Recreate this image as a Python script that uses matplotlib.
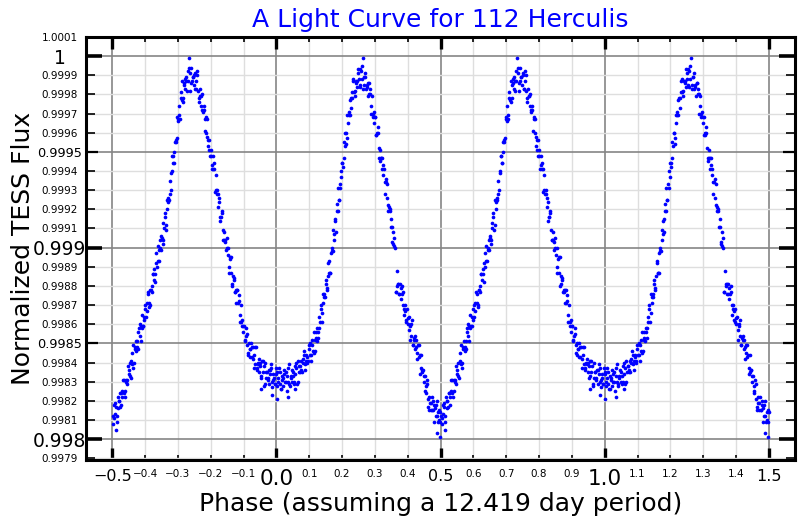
import matplotlib
matplotlib.use("Agg")
import matplotlib.pyplot as plt
import numpy as np

# phase-folded TESS light curve, one period (phase 0..1)
# quarter 1: minimum near 0.0 and rise to first peak
phase_q1 = [0.001, 0.003, 0.006, 0.008, 0.011, 0.013, 0.016, 0.018, 0.021, 0.023,
            0.026, 0.028, 0.031, 0.033, 0.036, 0.038, 0.041, 0.043, 0.046, 0.048,
            0.051, 0.053, 0.056, 0.058, 0.061, 0.063, 0.066, 0.068, 0.071, 0.073,
            0.076, 0.078, 0.081, 0.083, 0.086, 0.088, 0.091, 0.093, 0.096, 0.098,
            0.101, 0.103, 0.106, 0.108, 0.111, 0.113, 0.116, 0.118, 0.121, 0.123,
            0.126, 0.128, 0.131, 0.133, 0.136, 0.138, 0.141, 0.143, 0.146, 0.148,
            0.151, 0.153, 0.156, 0.158, 0.161, 0.163, 0.166, 0.168, 0.171, 0.173,
            0.176, 0.178, 0.181, 0.183, 0.186, 0.188, 0.191, 0.193, 0.196, 0.198,
            0.201, 0.203, 0.206, 0.208, 0.211, 0.213, 0.216, 0.218, 0.221, 0.223,
            0.226, 0.228, 0.231, 0.233, 0.236, 0.238, 0.241, 0.243, 0.246, 0.248]
flux_q1 = [0.99835, 0.99828, 0.99832, 0.99837, 0.99829, 0.99826, 0.99833, 0.99831, 0.99828, 0.99836,
           0.99830, 0.99835, 0.99825, 0.99833, 0.99830, 0.99839, 0.99828, 0.99833, 0.99836, 0.99830,
           0.99833, 0.99829, 0.99838, 0.99834, 0.99837, 0.99829, 0.99841, 0.99835, 0.99838, 0.99835,
           0.99841, 0.99835, 0.99840, 0.99846, 0.99839, 0.99836, 0.99844, 0.99843, 0.99841, 0.99849,
           0.99844, 0.99850, 0.99841, 0.99849, 0.99846, 0.99856, 0.99846, 0.99852, 0.99856, 0.99851,
           0.99856, 0.99853, 0.99864, 0.99861, 0.99868, 0.99861, 0.99876, 0.99871, 0.99876, 0.99874,
           0.99883, 0.99878, 0.99885, 0.99892, 0.99887, 0.99887, 0.99897, 0.99898, 0.99898, 0.99909,
           0.99907, 0.99914, 0.99908, 0.99919, 0.99919, 0.99931, 0.99925, 0.99933, 0.99940, 0.99937,
           0.99944, 0.99942, 0.99955, 0.99953, 0.99960, 0.99954, 0.99969, 0.99965, 0.99971, 0.99969,
           0.99978, 0.99973, 0.99981, 0.99987, 0.99981, 0.99979, 0.99987, 0.99986, 0.99984, 0.99993]

# quarter 2: first peak, fall with the step near 0.36, deep minimum near 0.5
phase_q2 = [0.251, 0.253, 0.256, 0.258, 0.261, 0.263, 0.266, 0.268, 0.271, 0.273,
            0.276, 0.278, 0.281, 0.283, 0.286, 0.288, 0.291, 0.293, 0.296, 0.298,
            0.301, 0.303, 0.306, 0.308, 0.311, 0.313, 0.316, 0.318, 0.321, 0.323,
            0.326, 0.328, 0.331, 0.333, 0.336, 0.338, 0.341, 0.343, 0.346, 0.348,
            0.351, 0.353, 0.356, 0.358, 0.361, 0.363, 0.366, 0.368, 0.371, 0.373,
            0.376, 0.378, 0.381, 0.383, 0.386, 0.388, 0.391, 0.393, 0.396, 0.398,
            0.401, 0.403, 0.406, 0.408, 0.411, 0.413, 0.416, 0.418, 0.421, 0.423,
            0.426, 0.428, 0.431, 0.433, 0.436, 0.438, 0.441, 0.443, 0.446, 0.448,
            0.451, 0.453, 0.456, 0.458, 0.461, 0.463, 0.466, 0.468, 0.471, 0.473,
            0.476, 0.478, 0.481, 0.483, 0.486, 0.488, 0.491, 0.493, 0.496, 0.498]
flux_q2 = [0.99988, 0.99993, 0.99984, 0.99992, 0.99988, 0.99999, 0.99985, 0.99989, 0.99991, 0.99983,
           0.99985, 0.99979, 0.99986, 0.99980, 0.99980, 0.99970, 0.99979, 0.99970, 0.99971, 0.99965,
           0.99968, 0.99959, 0.99960, 0.99963, 0.99952, 0.99947, 0.99951, 0.99947, 0.99941, 0.99947,
           0.99938, 0.99941, 0.99928, 0.99934, 0.99926, 0.99933, 0.99919, 0.99921, 0.99920, 0.99911,
           0.99911, 0.99903, 0.99908, 0.99901, 0.99900, 0.99877, 0.99888, 0.99880, 0.99881, 0.99876,
           0.99881, 0.99873, 0.99876, 0.99880, 0.99870, 0.99865, 0.99870, 0.99867, 0.99861, 0.99868,
           0.99860, 0.99864, 0.99852, 0.99859, 0.99854, 0.99862, 0.99849, 0.99853, 0.99854, 0.99847,
           0.99848, 0.99842, 0.99849, 0.99843, 0.99844, 0.99834, 0.99844, 0.99835, 0.99836, 0.99830,
           0.99833, 0.99825, 0.99828, 0.99831, 0.99821, 0.99817, 0.99822, 0.99819, 0.99815, 0.99822,
           0.99815, 0.99820, 0.99809, 0.99816, 0.99812, 0.99820, 0.99809, 0.99814, 0.99815, 0.99809]

# quarter 3: rise from the deep minimum to the second peak
phase_q3 = [0.501, 0.503, 0.506, 0.508, 0.511, 0.513, 0.516, 0.518, 0.521, 0.523,
            0.526, 0.528, 0.531, 0.533, 0.536, 0.538, 0.541, 0.543, 0.546, 0.548,
            0.551, 0.553, 0.556, 0.558, 0.561, 0.563, 0.566, 0.568, 0.571, 0.573,
            0.576, 0.578, 0.581, 0.583, 0.586, 0.588, 0.591, 0.593, 0.596, 0.598,
            0.601, 0.603, 0.606, 0.608, 0.611, 0.613, 0.616, 0.618, 0.621, 0.623,
            0.626, 0.628, 0.631, 0.633, 0.636, 0.638, 0.641, 0.643, 0.646, 0.648,
            0.651, 0.653, 0.656, 0.658, 0.661, 0.663, 0.666, 0.668, 0.671, 0.673,
            0.676, 0.678, 0.681, 0.683, 0.686, 0.688, 0.691, 0.693, 0.696, 0.698,
            0.701, 0.703, 0.706, 0.708, 0.711, 0.713, 0.716, 0.718, 0.721, 0.723,
            0.726, 0.728, 0.731, 0.733, 0.736, 0.738, 0.741, 0.743, 0.746, 0.748]
flux_q3 = [0.99812, 0.99808, 0.99818, 0.99813, 0.99817, 0.99809, 0.99822, 0.99816, 0.99820, 0.99817,
           0.99824, 0.99818, 0.99825, 0.99831, 0.99824, 0.99822, 0.99831, 0.99830, 0.99829, 0.99838,
           0.99834, 0.99840, 0.99832, 0.99841, 0.99839, 0.99849, 0.99840, 0.99847, 0.99851, 0.99846,
           0.99851, 0.99847, 0.99858, 0.99854, 0.99859, 0.99851, 0.99865, 0.99859, 0.99864, 0.99862,
           0.99870, 0.99864, 0.99871, 0.99877, 0.99871, 0.99869, 0.99878, 0.99878, 0.99877, 0.99886,
           0.99883, 0.99889, 0.99882, 0.99892, 0.99890, 0.99901, 0.99893, 0.99899, 0.99904, 0.99899,
           0.99905, 0.99902, 0.99913, 0.99910, 0.99916, 0.99909, 0.99925, 0.99920, 0.99926, 0.99925,
           0.99935, 0.99930, 0.99940, 0.99948, 0.99944, 0.99944, 0.99955, 0.99956, 0.99957, 0.99968,
           0.99966, 0.99974, 0.99967, 0.99978, 0.99977, 0.99987, 0.99978, 0.99985, 0.99988, 0.99983,
           0.99987, 0.99982, 0.99992, 0.99999, 0.99991, 0.99982, 0.99994, 0.99987, 0.99989, 0.99985]

# quarter 4: fall from the second peak back to the shallow minimum
phase_q4 = [0.751, 0.753, 0.756, 0.758, 0.761, 0.763, 0.766, 0.768, 0.771, 0.773,
            0.776, 0.778, 0.781, 0.783, 0.786, 0.788, 0.791, 0.793, 0.796, 0.798,
            0.801, 0.803, 0.806, 0.808, 0.811, 0.813, 0.816, 0.818, 0.821, 0.823,
            0.826, 0.828, 0.831, 0.833, 0.836, 0.838, 0.841, 0.843, 0.846, 0.848,
            0.851, 0.853, 0.856, 0.858, 0.861, 0.863, 0.866, 0.868, 0.871, 0.873,
            0.876, 0.878, 0.881, 0.883, 0.886, 0.888, 0.891, 0.893, 0.896, 0.898,
            0.901, 0.903, 0.906, 0.908, 0.911, 0.913, 0.916, 0.918, 0.921, 0.923,
            0.926, 0.928, 0.931, 0.933, 0.936, 0.938, 0.941, 0.943, 0.946, 0.948,
            0.951, 0.953, 0.956, 0.958, 0.961, 0.963, 0.966, 0.968, 0.971, 0.973,
            0.976, 0.978, 0.981, 0.983, 0.986, 0.988, 0.991, 0.993, 0.996, 0.998]
flux_q4 = [0.99991, 0.99983, 0.99987, 0.99992, 0.99982, 0.99978, 0.99983, 0.99979, 0.99974, 0.99980,
           0.99971, 0.99974, 0.99961, 0.99967, 0.99960, 0.99967, 0.99953, 0.99956, 0.99956, 0.99948,
           0.99948, 0.99941, 0.99948, 0.99941, 0.99941, 0.99929, 0.99938, 0.99928, 0.99928, 0.99921,
           0.99924, 0.99914, 0.99916, 0.99919, 0.99909, 0.99904, 0.99908, 0.99904, 0.99899, 0.99905,
           0.99896, 0.99900, 0.99887, 0.99894, 0.99887, 0.99895, 0.99881, 0.99885, 0.99884, 0.99877,
           0.99878, 0.99871, 0.99878, 0.99871, 0.99872, 0.99861, 0.99870, 0.99861, 0.99862, 0.99856,
           0.99859, 0.99851, 0.99854, 0.99858, 0.99849, 0.99845, 0.99850, 0.99847, 0.99843, 0.99850,
           0.99843, 0.99848, 0.99837, 0.99844, 0.99839, 0.99848, 0.99836, 0.99840, 0.99842, 0.99835,
           0.99838, 0.99832, 0.99841, 0.99835, 0.99838, 0.99828, 0.99840, 0.99832, 0.99835, 0.99831,
           0.99836, 0.99829, 0.99834, 0.99839, 0.99830, 0.99827, 0.99834, 0.99832, 0.99829, 0.99837]

# second pass of points between the ones above, first half of the period
phase_fill1 = [0.0045, 0.0095, 0.0145, 0.0195, 0.0245, 0.0295, 0.0345, 0.0395, 0.0445, 0.0495,
               0.0545, 0.0595, 0.0645, 0.0695, 0.0745, 0.0795, 0.0845, 0.0895, 0.0945, 0.0995,
               0.1045, 0.1095, 0.1145, 0.1195, 0.1245, 0.1295, 0.1345, 0.1395, 0.1445, 0.1495,
               0.1545, 0.1595, 0.1645, 0.1695, 0.1745, 0.1795, 0.1845, 0.1895, 0.1945, 0.1995,
               0.2045, 0.2095, 0.2145, 0.2195, 0.2245, 0.2295, 0.2345, 0.2395, 0.2445, 0.2495,
               0.2545, 0.2595, 0.2645, 0.2695, 0.2745, 0.2795, 0.2845, 0.2895, 0.2945, 0.2995,
               0.3045, 0.3095, 0.3145, 0.3195, 0.3245, 0.3295, 0.3345, 0.3395, 0.3445, 0.3495,
               0.3545, 0.3595, 0.3645, 0.3695, 0.3745, 0.3795, 0.3845, 0.3895, 0.3945, 0.3995,
               0.4045, 0.4095, 0.4145, 0.4195, 0.4245, 0.4295, 0.4345, 0.4395, 0.4445, 0.4495,
               0.4545, 0.4595, 0.4645, 0.4695, 0.4745, 0.4795, 0.4845, 0.4895, 0.4945, 0.4995]
flux_fill1 = [0.99830, 0.99835, 0.99826, 0.99832, 0.99834, 0.99830, 0.99837, 0.99829, 0.99832, 0.99835,
              0.99830, 0.99840, 0.99830, 0.99838, 0.99836, 0.99842, 0.99844, 0.99841, 0.99840, 0.99847,
              0.99844, 0.99852, 0.99845, 0.99853, 0.99858, 0.99858, 0.99870, 0.99866, 0.99874, 0.99881,
              0.99879, 0.99893, 0.99887, 0.99900, 0.99904, 0.99915, 0.99923, 0.99925, 0.99931, 0.99944,
              0.99947, 0.99960, 0.99957, 0.99969, 0.99977, 0.99978, 0.99988, 0.99982, 0.99987, 0.99991,
              0.99985, 0.99995, 0.99983, 0.99989, 0.99984, 0.99986, 0.99983, 0.99974, 0.99968, 0.99968,
              0.99959, 0.99960, 0.99945, 0.99947, 0.99943, 0.99934, 0.99936, 0.99922, 0.99919, 0.99915,
              0.99902, 0.99905, 0.99877, 0.99881, 0.99876, 0.99879, 0.99877, 0.99868, 0.99862, 0.99863,
              0.99857, 0.99860, 0.99849, 0.99852, 0.99852, 0.99845, 0.99849, 0.99837, 0.99836, 0.99833,
              0.99824, 0.99829, 0.99815, 0.99819, 0.99815, 0.99818, 0.99818, 0.99812, 0.99810, 0.99814]

# second pass, second half of the period
phase_fill2 = [0.5045, 0.5095, 0.5145, 0.5195, 0.5245, 0.5295, 0.5345, 0.5395, 0.5445, 0.5495,
               0.5545, 0.5595, 0.5645, 0.5695, 0.5745, 0.5795, 0.5845, 0.5895, 0.5945, 0.5995,
               0.6045, 0.6095, 0.6145, 0.6195, 0.6245, 0.6295, 0.6345, 0.6395, 0.6445, 0.6495,
               0.6545, 0.6595, 0.6645, 0.6695, 0.6745, 0.6795, 0.6845, 0.6895, 0.6945, 0.6995,
               0.7045, 0.7095, 0.7145, 0.7195, 0.7245, 0.7295, 0.7345, 0.7395, 0.7445, 0.7495,
               0.7545, 0.7595, 0.7645, 0.7695, 0.7745, 0.7795, 0.7845, 0.7895, 0.7945, 0.7995,
               0.8045, 0.8095, 0.8145, 0.8195, 0.8245, 0.8295, 0.8345, 0.8395, 0.8445, 0.8495,
               0.8545, 0.8595, 0.8645, 0.8695, 0.8745, 0.8795, 0.8845, 0.8895, 0.8945, 0.8995,
               0.9045, 0.9095, 0.9145, 0.9195, 0.9245, 0.9295, 0.9345, 0.9395, 0.9445, 0.9495,
               0.9545, 0.9595, 0.9645, 0.9695, 0.9745, 0.9795, 0.9845, 0.9895, 0.9945, 0.9995]
flux_fill2 = [0.99811, 0.99819, 0.99812, 0.99820, 0.99824, 0.99822, 0.99831, 0.99825, 0.99831, 0.99836,
              0.99833, 0.99845, 0.99837, 0.99848, 0.99848, 0.99856, 0.99860, 0.99858, 0.99859, 0.99868,
              0.99867, 0.99876, 0.99870, 0.99880, 0.99886, 0.99886, 0.99897, 0.99893, 0.99900, 0.99906,
              0.99904, 0.99918, 0.99912, 0.99924, 0.99928, 0.99939, 0.99948, 0.99950, 0.99955, 0.99967,
              0.99969, 0.99981, 0.99976, 0.99986, 0.99989, 0.99987, 0.99994, 0.99986, 0.99989, 0.99990,
              0.99983, 0.99990, 0.99976, 0.99979, 0.99972, 0.99972, 0.99968, 0.99958, 0.99951, 0.99951,
              0.99943, 0.99944, 0.99930, 0.99930, 0.99926, 0.99916, 0.99918, 0.99904, 0.99903, 0.99900,
              0.99890, 0.99895, 0.99880, 0.99883, 0.99877, 0.99878, 0.99875, 0.99865, 0.99859, 0.99859,
              0.99852, 0.99855, 0.99844, 0.99847, 0.99848, 0.99842, 0.99848, 0.99837, 0.99839, 0.99840,
              0.99833, 0.99841, 0.99829, 0.99835, 0.99832, 0.99836, 0.99837, 0.99831, 0.99829, 0.99834]

# a few stragglers near the minima
phase_extra = [0.002, 0.035, 0.058, 0.489, 0.497, 0.512, 0.954, 0.985]
flux_extra = [0.99821, 0.99822, 0.99826, 0.99803, 0.99801, 0.99805, 0.99826, 0.99823]

# axis tick labels
x_major_labels = ["\u22120.5", "0.0", "0.5", "1.0", "1.5"]
x_minor_labels = ["\u22120.4", "\u22120.3", "\u22120.2", "\u22120.1",
                  "0.1", "0.2", "0.3", "0.4", "0.6", "0.7", "0.8", "0.9",
                  "1.1", "1.2", "1.3", "1.4"]
y_major_labels = ["0.998", "0.9985", "0.999", "0.9995", "1"]
y_minor_labels = ["0.9979", "0.9981", "0.9982", "0.9983", "0.9984",
                  "0.9986", "0.9987", "0.9988", "0.9989", "0.9991", "0.9992",
                  "0.9993", "0.9994", "0.9996", "0.9997", "0.9998", "0.9999", "1.0001"]

phase = np.array(phase_q1 + phase_q2 + phase_q3 + phase_q4
                 + phase_fill1 + phase_fill2 + phase_extra)
flux = np.array(flux_q1 + flux_q2 + flux_q3 + flux_q4
                + flux_fill1 + flux_fill2 + flux_extra)


def num(s):
    return float(s.replace("\u2212", "-"))


fig = plt.figure(figsize=(8, 5.2), dpi=100)
ax = fig.add_axes([0.1075, 0.115, 0.8865, 0.814])

# the folded period is shown three times, only between -0.5 and 1.5
for shift in (-1, 0, 1):
    x = phase + shift
    keep = (x >= -0.5) & (x <= 1.5)
    ax.scatter(x[keep], flux[keep], s=7, c="blue", linewidths=0, zorder=3)

ax.set_xlim(-0.58, 1.58)
ax.set_ylim(0.99789, 1.0001)

ax.tick_params(which="both", direction="in", top=True, right=True,
               labeltop=False, labelright=False, colors="black")
ax.tick_params(axis="x", which="both", pad=6.5)
ax.tick_params(axis="y", which="both", pad=19)

ax.set_xticks([num(s) for s in x_major_labels], x_major_labels)
ax.set_xticks([num(s) for s in x_minor_labels], x_minor_labels, minor=True)
ax.set_yticks([num(s) for s in y_major_labels], y_major_labels)
ax.set_yticks([num(s) for s in y_minor_labels], y_minor_labels, minor=True)

for tick, lab in zip(ax.xaxis.get_major_ticks(), x_major_labels):
    tick.label1.set_fontsize(15.5 if lab in ("0.0", "1.0") else 11.5)
    for ln in (tick.tick1line, tick.tick2line):
        ln.set_markersize(8.5)
        ln.set_markeredgewidth(2.4)
for tick in ax.xaxis.get_minor_ticks():
    tick.label1.set_fontsize(7.5)
    for ln in (tick.tick1line, tick.tick2line):
        ln.set_markersize(3.8)
        ln.set_markeredgewidth(1.2)

for tick, lab in zip(ax.yaxis.get_major_ticks(), y_major_labels):
    tick.label1.set_horizontalalignment("center")
    big = lab in ("0.998", "0.999", "1")
    tick.label1.set_fontsize(13.5 if big else 9.3)
    for ln in (tick.tick1line, tick.tick2line):
        ln.set_markersize(11.5 if big else 8.5)
        ln.set_markeredgewidth(2.6 if big else 1.6)
for tick in ax.yaxis.get_minor_ticks():
    tick.label1.set_horizontalalignment("center")
    tick.label1.set_fontsize(7.5)
    for ln in (tick.tick1line, tick.tick2line):
        ln.set_markersize(6.5)
        ln.set_markeredgewidth(1.2)

ax.grid(which="major", color="#858585", linewidth=1.2)
ax.grid(which="minor", color="#dedede", linewidth=1.0)
ax.set_axisbelow(True)

for sp in ax.spines.values():
    sp.set_linewidth(2.2)
    sp.set_color("black")

ax.set_title("A Light Curve for 112 Herculis", color="blue", fontsize=18, pad=7)
ax.set_xlabel("Phase (assuming a 12.419 day period)", fontsize=18, labelpad=2)
ax.set_ylabel("Normalized TESS Flux", fontsize=18)
ax.yaxis.set_label_coords(-0.072, 0.5)

fig.savefig("out.png", dpi=100)
